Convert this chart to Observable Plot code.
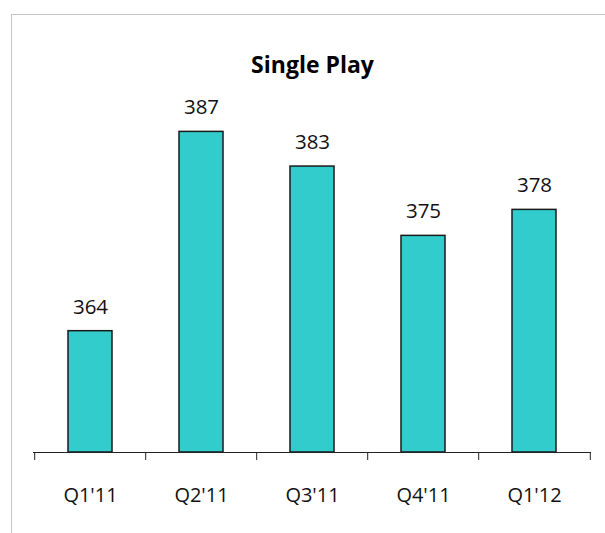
<!DOCTYPE html>
<html>
<head>
<meta charset="utf-8">
<script src="https://cdn.jsdelivr.net/npm/d3@7"></script>
<script src="https://cdn.jsdelivr.net/npm/@observablehq/plot@0.6"></script>
<style>
  html, body { margin: 0; padding: 0; background: #fff; }
  #wrap { position: relative; width: 605px; height: 533px; overflow: hidden; }
  #frame { position: absolute; left: 11px; top: 14px; right: -2px; bottom: -2px;
           border-top: 1px solid #c4c4c4; border-left: 1px solid #c4c4c4; }
  #chart { position: absolute; left: 0; top: 0; }
</style>
</head>
<body>
<div id="wrap"><div id="frame"></div><div id="chart"></div></div>
<script>
const title = "Single Play";
const quarters = ["Q1'11", "Q2'11", "Q3'11", "Q4'11", "Q1'12"];
const values = [364, 387, 383, 375, 378];
const yMin = 350, yMax = 400;

const data = quarters.map((q, i) => ({q, v: values[i]}));

const W = 605, H = 533;
const mL = 33, mR = 14, mT = 18.75, mB = 81;
const step = (W - mL - mR) / quarters.length;
const pxPerUnit = (H - mB - mT) / (yMax - yMin);
const tickLen = 8;
const font = "'Open Sans', 'DejaVu Sans', sans-serif";

const chart = Plot.plot({
  width: W,
  height: H,
  marginLeft: mL,
  marginRight: mR,
  marginTop: mT,
  marginBottom: mB,
  style: {fontFamily: font, background: "transparent", overflow: "visible"},
  x: {type: "band", domain: quarters, paddingInner: 0.6, paddingOuter: 0.3, axis: null},
  y: {domain: [yMin, yMax], axis: null},
  marks: [
    Plot.barY(data, {x: "q", y1: yMin, y2: "v", fill: "#33CCCC", stroke: "#1a1a1a", strokeWidth: 1.5}),
    Plot.ruleY([yMin], {stroke: "#222", strokeWidth: 1.2}),
    Plot.ruleX(quarters, {x: d => d, dx: -step / 2, y1: yMin, y2: yMin - tickLen / pxPerUnit, stroke: "#222", strokeWidth: 1}),
    Plot.ruleX(quarters.slice(-1), {x: d => d, dx: step / 2, y1: yMin, y2: yMin - tickLen / pxPerUnit, stroke: "#222", strokeWidth: 1}),
    Plot.text(data, {x: "q", y: "v", text: d => String(d.v), dy: -24, lineAnchor: "middle", fontSize: 20.5, fill: "#111"}),
    Plot.text(quarters, {x: d => d, frameAnchor: "bottom", dy: 43, lineAnchor: "middle", fontSize: 20, fill: "#111"}),
    Plot.text([title], {frameAnchor: "top", dy: 46, lineAnchor: "middle", fontSize: 23, fontWeight: "bold", fill: "#000"})
  ]
});
document.getElementById("chart").appendChild(chart);
</script>
</body>
</html>
